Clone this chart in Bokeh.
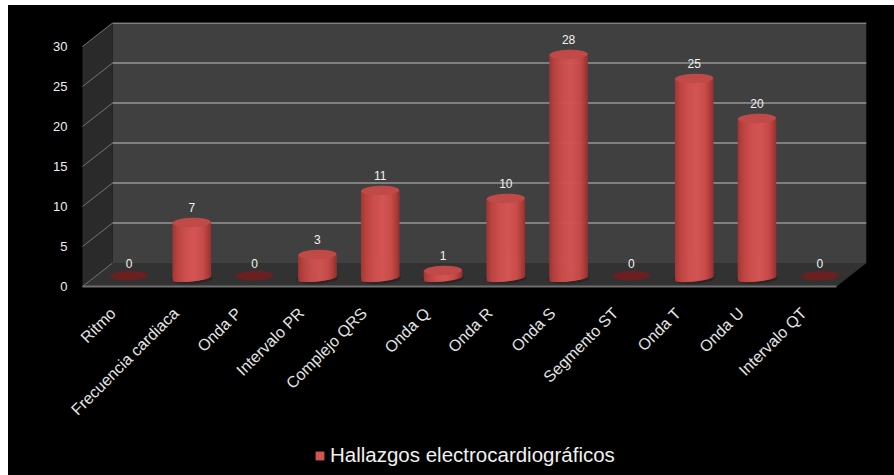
import math

import numpy as np
from bokeh.core.properties import value
from bokeh.embed import file_html
from bokeh.resources import INLINE
from bokeh.plotting import figure
from bokeh.models import ColumnDataSource, FixedTicker, LinearAxis, Range1d, Legend, LegendItem

categories = ["Ritmo", "Frecuencia cardiaca", "Onda P", "Intervalo PR", "Complejo QRS",
              "Onda Q", "Onda R", "Onda S", "Segmento ST", "Onda T", "Onda U", "Intervalo QT"]
hallazgos = [0, 7, 0, 3, 11, 1, 10, 28, 0, 25, 20, 0]
y_ticks = [0, 5, 10, 15, 20, 25, 30]
series_name = "Hallazgos electrocardiográficos"

FONT = "Liberation Sans"

# Layout of the plot box, in page pixels
FRAME_LEFT, WALL_LEFT, RIGHT, TOP, ZERO, PAGE_H = 67, 82, 866, 22, 286, 475
FIRST_BAR, BAR_STEP = 128.5, 62.8
PX_PER_UNIT = 8.0
DEPTH_X = 30 / BAR_STEP
DEPTH_Y = 23.5 / PX_PER_UNIT
BAR_LIFT = 1.0
BAR_W = 38 / BAR_STEP
LID_H = 9.5 / PX_PER_UNIT
BASE_H = 6 / PX_PER_UNIT
TILT = 2.0 / PX_PER_UNIT

x_start = (FRAME_LEFT - FIRST_BAR) / BAR_STEP
x0 = (WALL_LEFT - FIRST_BAR) / BAR_STEP
x1 = (RIGHT - FIRST_BAR) / BAR_STEP
ymax = (ZERO - TOP) / PX_PER_UNIT
ymin = -(PAGE_H - ZERO) / PX_PER_UNIT
front = x1 - DEPTH_X


def blend(u):
    """Cylinder shading across the width, u running from -1 to 1."""
    stops = [-1.0, -0.75, -0.3, 0.15, 0.6, 0.85, 1.0]
    reds = [0xa0, 0xba, 0xcd, 0xd3, 0xc8, 0xb0, 0x96]
    greens = [0x37, 0x43, 0x50, 0x56, 0x4c, 0x3d, 0x33]
    blues = [0x35, 0x41, 0x4e, 0x55, 0x4a, 0x3b, 0x31]
    r, g, b = (int(np.interp(u, stops, c)) for c in (reds, greens, blues))
    return f"#{r:02x}{g:02x}{b:02x}"


p = figure(width=886, height=470, x_range=Range1d(x_start, x1), y_range=Range1d(ymin, ymax),
           output_backend="svg", toolbar_location=None,
           min_border_left=FRAME_LEFT - 8, min_border_right=894 - RIGHT,
           min_border_top=TOP - 5, min_border_bottom=0,
           background_fill_color=None, border_fill_color=None,
           outline_line_color=None, x_axis_location=None, y_axis_location=None)
p.margin = (5, 0, 0, 8)
p.styles = {"background-color": "#000000"}
p.grid.visible = False

# Back wall, side wall and floor
p.patch([x0 + DEPTH_X, x1, x1, x0 + DEPTH_X], [DEPTH_Y, DEPTH_Y, 30 + DEPTH_Y, 30 + DEPTH_Y],
        fill_color="#404040", line_color=None)
p.patch([x0, x0 + DEPTH_X, x0 + DEPTH_X, x0], [0, DEPTH_Y, 30 + DEPTH_Y, 30],
        fill_color="#2a2a2a", line_color=None)
p.patch([x0, x0 + DEPTH_X, x1, front], [0, DEPTH_Y, DEPTH_Y, 0],
        fill_color="#323232", line_color=None)
p.line([x0, front], [0, 0], line_color="#6e6e6e", line_width=2)

# Gridlines run along the back wall and slant down the side wall
for t in y_ticks[1:]:
    p.line([x0 + DEPTH_X, x1], [t + DEPTH_Y, t + DEPTH_Y], line_color="#949494", line_width=1.3)
for t in y_ticks:
    p.line([x0, x0 + DEPTH_X], [t, t + DEPTH_Y], line_color="#757575", line_width=1)

# Cylinders built from narrow strips, or a flat disc where the value is zero
idx = list(range(len(hallazgos)))
legend_renderer = None
N_STRIPS = 38
for i, v in zip(idx, hallazgos):
    if v == 0:
        p.ellipse(x=[i], y=[BAR_LIFT + 0.35], width=BAR_W, height=LID_H, angle=0.03,
                  fill_color="#6a2020", line_color=None)
        continue
    p.ellipse(x=[i], y=[BAR_LIFT], width=BAR_W * 1.1, height=LID_H * 1.1, angle=0.05,
              fill_color="#2a2626", line_color=None)
    for k in range(N_STRIPS):
        u = -1 + 2 * (k + 0.5) / N_STRIPS
        bottom = BAR_LIFT - BASE_H / 2 * math.sqrt(1 - u * u) + TILT * u
        r = p.vbar(x=[i + u * BAR_W / 2], width=BAR_W / N_STRIPS * 1.6,
                   bottom=[bottom], top=[BAR_LIFT + v], fill_color=blend(u), line_color=None)
        if k == N_STRIPS // 2 and legend_renderer is None:
            legend_renderer = r
    p.ellipse(x=[i], y=[BAR_LIFT + v], width=BAR_W * 1.0, height=LID_H, angle=0.03,
              fill_color="#c04a47", line_color=None)

# Value labels above each mark
labels = ColumnDataSource(dict(x=idx, y=[BAR_LIFT + v + 1.35 for v in hallazgos],
                               t=[str(v) for v in hallazgos]))
p.text(x="x", y="y", text="t", source=labels, text_color="#f2f2f2", text_font_size="12px",
       text_font=value(FONT), text_align="center", text_baseline="bottom")

# Slanted category labels ending just under each mark
names = ColumnDataSource(dict(x=[i - 16 / BAR_STEP for i in idx],
                              y=[-24 / PX_PER_UNIT] * len(idx), t=categories))
p.text(x="x", y="y", text="t", source=names, angle=math.pi / 4, text_color="#e4e4e4",
       text_font_size="16px", text_font=value(FONT), text_align="right", text_baseline="middle")

# Value axis
yax = LinearAxis(ticker=FixedTicker(ticks=y_ticks), axis_line_color=None,
                 major_tick_line_color=None, minor_tick_line_color=None,
                 major_tick_out=0, major_tick_in=0,
                 major_label_text_color="#f0f0f0", major_label_text_font=FONT,
                 major_label_text_font_size="13px", major_label_standoff=0)
p.add_layout(yax, "left")

legend = Legend(items=[LegendItem(label=series_name, renderers=[legend_renderer])],
                location=(243, 4), background_fill_alpha=0, border_line_alpha=0,
                label_text_color="#f0f0f0", label_text_font=FONT,
                label_text_font_size="20.5px", glyph_width=11, glyph_height=11,
                label_standoff=5, padding=4, margin=0)
p.add_layout(legend, "center")

open("out.html", "w").write(file_html(p, INLINE))
